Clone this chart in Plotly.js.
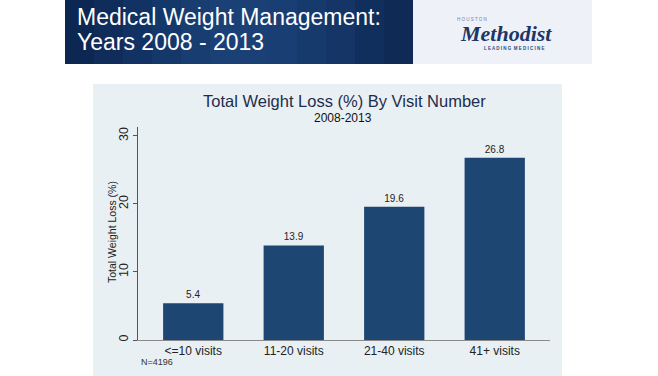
<!DOCTYPE html>
<html>
<head>
<meta charset="utf-8">
<script src="https://cdn.plot.ly/plotly-3.0.1.min.js"></script>
<style>html,body{margin:0;padding:0;background:#fff;}#chart{width:658px;height:376px;}</style>
</head>
<body>
<div id="chart"></div>
<script>
// ---- data ----
const categories = ['<=10 visits', '11-20 visits', '21-40 visits', '41+ visits'];
const values = [5.4, 13.9, 19.6, 26.8];
const valueLabels = ['5.4', '13.9', '19.6', '26.8'];
const yTickVals = [0, 10, 20, 30];
const yTickText = ['0', '10', '20', '30'];

// ---- geometry helpers (pixel -> paper) ----
const L = 138, R = 550, T = 127, B = 340;
const X = px => (px - L) / (R - L);
const Y = py => (B - py) / (B - T);

const SANS = 'Liberation Sans, Arial, sans-serif';

const trace = {
  type: 'bar',
  x: categories,
  y: values,
  text: valueLabels,
  textposition: 'outside',
  textfont: {family: SANS, size: 10, color: '#222'},
  cliponaxis: false,
  width: 0.6,
  marker: {color: '#1d4672', line: {width: 0}},
  hoverinfo: 'none'
};

// header gradient strips
const headerShapes = [];
const stops = ['#0c2752','#0f2c5a','#123263','#15386b','#183d71','#1a4075','#1a4076','#193e73','#173a6d','#143565','#112f5d','#0e2a55'];
const hx0 = 65, hx1 = 413;
for (let i = 0; i < stops.length; i++) {
  headerShapes.push({type: 'rect', xref: 'paper', yref: 'paper', layer: 'below',
    x0: X(hx0 + (hx1 - hx0) * i / stops.length), x1: X(hx0 + (hx1 - hx0) * (i + 1) / stops.length + 0.5),
    y0: Y(64), y1: Y(0), fillcolor: stops[i], line: {width: 0}});
}

const layout = {
  width: 658, height: 376,
  margin: {l: L, r: 658 - R, t: T, b: 376 - B, pad: 0},
  paper_bgcolor: '#ffffff',
  plot_bgcolor: '#ffffff',
  showlegend: false,
  font: {family: SANS, color: '#222'},
  xaxis: {
    type: 'category',
    range: [-0.55, 3.55],
    showgrid: false,
    zeroline: false,
    showline: true, linecolor: '#8a8a8a', linewidth: 1,
    ticks: '',
    tickfont: {family: SANS, size: 12, color: '#222'},
    fixedrange: true
  },
  yaxis: {
    range: [0, 31.32],
    tickvals: yTickVals,
    ticktext: yTickText,
    tickangle: -90,
    ticks: 'outside', ticklen: 4, tickcolor: '#555',
    showline: true, linecolor: '#555', linewidth: 1,
    showgrid: true, gridcolor: '#eceef0', gridwidth: 1,
    zeroline: false,
    tickfont: {family: SANS, size: 12.5, color: '#222'},
    fixedrange: true
  },
  shapes: headerShapes.concat([
    // logo box
    {type: 'rect', xref: 'paper', yref: 'paper', layer: 'below', x0: X(413), x1: X(592), y0: Y(64), y1: Y(0), fillcolor: '#eef2f8', line: {width: 0}},
    // chart panel
    {type: 'rect', xref: 'paper', yref: 'paper', layer: 'below', x0: X(93), x1: X(562), y0: Y(376), y1: Y(84), fillcolor: '#e9f0f4', line: {width: 0}}
  ]),
  annotations: [
    {xref: 'paper', yref: 'paper', x: X(75), y: Y(17), xanchor: 'left', yanchor: 'middle', showarrow: false,
     text: 'Medical Weight Management:', font: {family: SANS, size: 23, color: '#ffffff'}},
    {xref: 'paper', yref: 'paper', x: X(75), y: Y(42), xanchor: 'left', yanchor: 'middle', showarrow: false,
     text: 'Years 2008 - 2013', font: {family: SANS, size: 23, color: '#ffffff'}},
    {xref: 'paper', yref: 'paper', x: X(455), y: Y(19), xanchor: 'left', yanchor: 'middle', showarrow: false,
     text: 'H O U S T O N', font: {family: SANS, size: 4.5, color: '#6a7fa3'}},
    {xref: 'paper', yref: 'paper', x: X(458), y: Y(33), xanchor: 'left', yanchor: 'middle', showarrow: false,
     text: '<b><i>Methodist</i></b>', font: {family: 'Liberation Serif, Times New Roman, serif', size: 22, color: '#1c3766'}},
    {xref: 'paper', yref: 'paper', x: X(482), y: Y(48), xanchor: 'left', yanchor: 'middle', showarrow: false,
     text: '<b>L E A D I N G  M E D I C I N E</b>', font: {family: SANS, size: 4.5, color: '#2a4a7a'}},
    {xref: 'paper', yref: 'paper', x: X(344), y: Y(101), xanchor: 'center', yanchor: 'middle', showarrow: false,
     text: 'Total Weight Loss (%) By Visit Number', font: {family: SANS, size: 16.5, color: '#1f2d4d'}},
    {xref: 'paper', yref: 'paper', x: X(343), y: Y(118), xanchor: 'center', yanchor: 'middle', showarrow: false,
     text: '2008-2013', font: {family: SANS, size: 12, color: '#111'}},
    {xref: 'paper', yref: 'paper', x: X(112), y: Y(232), xanchor: 'center', yanchor: 'middle', showarrow: false, textangle: -90,
     text: 'Total Weight Loss (%)', font: {family: SANS, size: 10.5, color: '#222'}},
    {xref: 'paper', yref: 'paper', x: X(139), y: Y(362), xanchor: 'left', yanchor: 'middle', showarrow: false,
     text: 'N=4196', font: {family: SANS, size: 9, color: '#333'}}
  ]
};

Plotly.newPlot('chart', [trace], layout, {displayModeBar: false, staticPlot: true});
</script>
</body>
</html>
